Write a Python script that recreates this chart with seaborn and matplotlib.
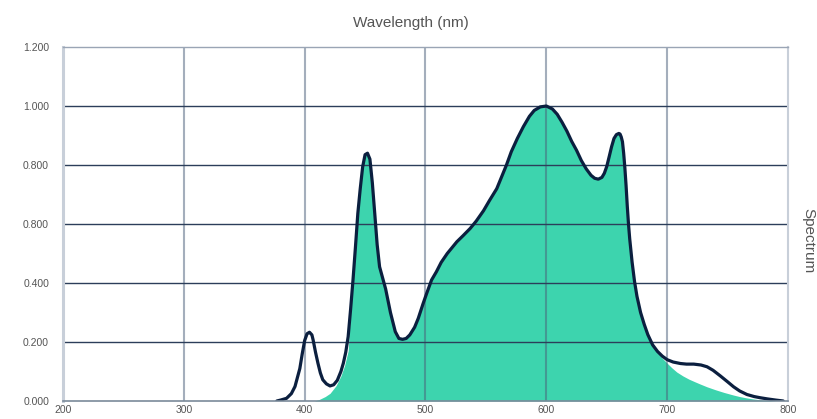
import numpy as np
import pandas as pd
import matplotlib
matplotlib.use("Agg")
import matplotlib.pyplot as plt
import seaborn as sns

# Outline spectrum (wavelength nm, relative value)
line_x = [377, 380, 385, 389, 392, 396, 398, 400, 402, 404, 406, 407, 409, 411,
          413, 415, 418, 421, 424, 427, 430, 432, 434, 436, 438, 440, 442, 444,
          446, 448, 450, 452, 454, 456, 458, 460, 462, 464, 467, 471, 475, 478,
          481, 484, 487, 491, 494, 498, 501, 505, 509, 513, 518, 522, 526, 531,
          537, 542, 548, 553, 559, 563, 567, 571, 576, 581, 586, 590, 595, 600,
          605, 609, 613, 617, 621, 625, 629, 633, 637, 640, 643, 646, 648, 650,
          652, 654, 656, 658, 660, 661, 662, 663, 664, 665, 666, 667, 668, 669,
          671, 673, 675, 678, 681, 684, 688, 692, 696, 700, 705, 711, 716, 722,
          728, 733, 738, 744, 750, 755, 760, 766, 772, 777, 783, 790, 796]
line_y = [0.0, 0.003, 0.009, 0.025, 0.049, 0.11, 0.16, 0.205, 0.228, 0.233, 0.224,
          0.207, 0.165, 0.128, 0.095, 0.072, 0.058, 0.051, 0.055, 0.07, 0.10,
          0.128, 0.165, 0.218, 0.31, 0.41, 0.52, 0.636, 0.72, 0.794, 0.835,
          0.84, 0.82, 0.74, 0.636, 0.53, 0.455, 0.425, 0.38, 0.30, 0.235, 0.212,
          0.209, 0.212, 0.224, 0.25, 0.28, 0.33, 0.365, 0.41, 0.438, 0.47, 0.5,
          0.52, 0.54, 0.56, 0.585, 0.61, 0.645, 0.68, 0.72, 0.76, 0.80, 0.845,
          0.89, 0.93, 0.965, 0.985, 0.997, 1.0, 0.99, 0.972, 0.945, 0.915, 0.88,
          0.85, 0.815, 0.787, 0.765, 0.755, 0.752, 0.758, 0.772, 0.795, 0.828,
          0.862, 0.89, 0.903, 0.907, 0.905, 0.895, 0.879, 0.84, 0.79, 0.73, 0.66,
          0.6, 0.55, 0.47, 0.405, 0.355, 0.3, 0.26, 0.225, 0.19, 0.168, 0.152,
          0.14, 0.132, 0.127, 0.125, 0.125, 0.122, 0.116, 0.104, 0.085, 0.065,
          0.048, 0.034, 0.022, 0.015, 0.011, 0.007, 0.003, 0.0]

# Filled area (differs from outline at the blue-violet start and the far-red tail)
fill_x = [408, 412, 417, 421, 426, 430, 433, 436, 438, 440, 442, 444, 446, 448,
          450, 452, 454, 456, 458, 460, 462, 464, 467, 471, 475, 478, 481, 484,
          487, 491, 494, 498, 501, 505, 509, 513, 518, 522, 526, 531, 537, 542,
          548, 553, 559, 563, 567, 571, 576, 581, 586, 590, 595, 600, 605, 609,
          613, 617, 621, 625, 629, 633, 637, 640, 643, 646, 648, 650, 652, 654,
          656, 658, 660, 661, 662, 663, 664, 665, 666, 667, 668, 669, 671, 673,
          675, 678, 681, 684, 688, 692, 696, 700, 704, 708, 713, 718, 723, 727,
          733, 740, 747, 755, 760, 765, 771, 777, 783, 790]
fill_y = [0.0, 0.005, 0.015, 0.026, 0.052, 0.085, 0.12, 0.17, 0.31, 0.41, 0.52,
          0.636, 0.72, 0.794, 0.835, 0.84, 0.82, 0.74, 0.636, 0.53, 0.455, 0.425,
          0.38, 0.30, 0.235, 0.212, 0.209, 0.212, 0.224, 0.25, 0.28, 0.33, 0.365,
          0.41, 0.438, 0.47, 0.5, 0.52, 0.54, 0.56, 0.585, 0.61, 0.645, 0.68, 0.72,
          0.76, 0.80, 0.845, 0.89, 0.93, 0.965, 0.985, 0.997, 1.0, 0.99, 0.972,
          0.945, 0.915, 0.88, 0.85, 0.815, 0.787, 0.765, 0.755, 0.752, 0.758,
          0.772, 0.795, 0.828, 0.862, 0.89, 0.903, 0.907, 0.905, 0.895, 0.879,
          0.84, 0.79, 0.73, 0.66, 0.6, 0.55, 0.47, 0.405, 0.355, 0.3, 0.26, 0.225,
          0.19, 0.165, 0.145, 0.128, 0.112, 0.098, 0.085, 0.074, 0.065, 0.058,
          0.048, 0.038, 0.029, 0.02, 0.015, 0.011, 0.007, 0.004, 0.002, 0.0]

x_ticks = [200, 300, 400, 500, 600, 700, 800]
x_labels = ["200", "300", "400", "500", "600", "700", "800"]
y_ticks = [0.0, 0.2, 0.4, 0.6, 0.8, 1.0, 1.2]
y_labels = ["0.000", "0.200", "0.400", "0.800", "0.800", "1.000", "1.200"]

sns.set_theme(style="white")
plt.rcParams['font.family'] = ['Liberation Sans', 'DejaVu Sans']

fig = plt.figure(figsize=(8.17, 4.19), dpi=100)
ax = fig.add_axes([0.0771, 0.043, 0.8874, 0.8448])

df_line = pd.DataFrame({"wl": line_x, "val": line_y})
df_fill = pd.DataFrame({"wl": fill_x, "val": fill_y})

ax.fill_between(df_fill["wl"], 0, df_fill["val"], color="#3dd4ae", lw=0, zorder=1)

for xv in x_ticks[1:-1]:
    ax.axvline(xv, color="#4a5f7a", alpha=0.5, lw=1.5, zorder=2)
for yv in y_ticks[1:-1]:
    ax.axhline(yv, color="#2c3e5a", lw=1.0, zorder=2)

sns.lineplot(data=df_line, x="wl", y="val", ax=ax, color="#0b1f3f", lw=2.3,
             sort=False, zorder=3, solid_joinstyle="round", solid_capstyle="round")

ax.set_xlim(200, 800)
ax.set_ylim(0, 1.2)
ax.set_xticks(x_ticks)
ax.set_xticklabels(x_labels)
ax.set_yticks(y_ticks)
ax.set_yticklabels(y_labels)
ax.tick_params(axis="both", length=0, labelsize=7.5, labelcolor="#555555")
ax.tick_params(axis="x", pad=3)
ax.tick_params(axis="y", pad=10)
ax.set_xlabel("")
ax.set_ylabel("")

ax.spines["left"].set_color("#c8cfd9")
ax.spines["left"].set_linewidth(2.2)
ax.spines["right"].set_color("#c8cfd9")
ax.spines["right"].set_linewidth(1.5)
ax.spines["top"].set_color("#9aa5b5")
ax.spines["top"].set_linewidth(1.0)
ax.spines["bottom"].set_color("#7a8a9a")
ax.spines["bottom"].set_linewidth(1.2)
for s in ax.spines.values():
    s.set_zorder(4)

fig.text(0.503, 0.945, "Wavelength (nm)", ha="center", va="center",
         fontsize=11, color="#555555")
fig.text(0.989, 0.425, "Spectrum", ha="center", va="center", rotation=-90,
         fontsize=11, color="#555555")

fig.savefig("out.png", dpi=100)
